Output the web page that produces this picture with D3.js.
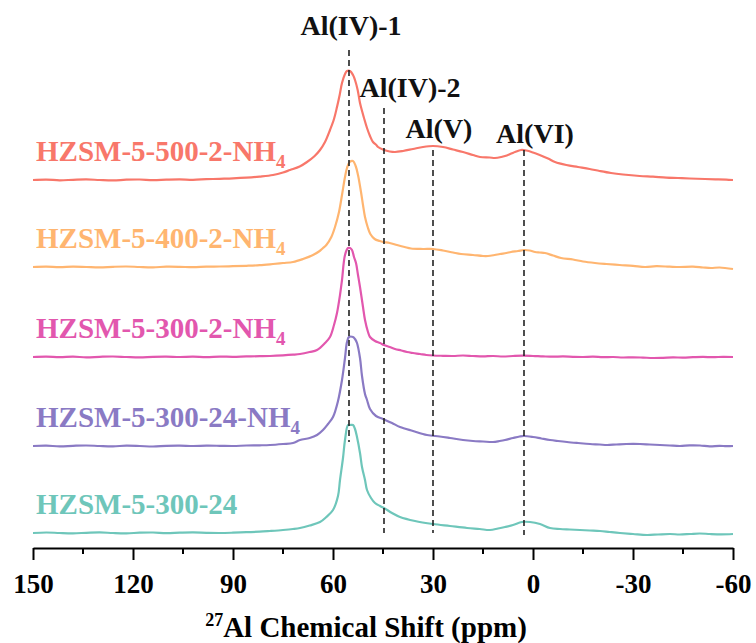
<!DOCTYPE html>
<html>
<head>
<meta charset="utf-8">
<script src="https://cdn.jsdelivr.net/npm/d3@7"></script>
<style>
  body { margin: 0; background: #fff; }
  svg { display: block; }
  text { font-family: "Liberation Serif", "Times New Roman", serif; font-weight: bold; }
</style>
</head>
<body>
<svg id="chart" width="756" height="643"></svg>
<script>
// 27Al MAS NMR spectra, [chemical shift (ppm), intensity (a.u.)]
const spec500_2_NH4 = [
  [150,0],[146,0.4],[142,-0.3],[138,0.2],[134,0.6],[130,0],[126,-0.4],[122,0.3],[118,0.5],[114,-0.2],
  [110,0.3],[106,0.6],[102,0.2],[98,0.8],[94,1.2],[90,1.6],[86,2.3],[82,3.4],[78,5],[75,7.5],
  [72.9,10],[70,13.5],[67.8,18],[65.5,24],[63.9,30],[62.4,38],[60.9,50],[59.7,61],[58.8,73],[58,85],
  [57.3,97],[56.4,106],[55.8,109],[54.9,109],[54,105],[53.4,100],[52.6,90],[51.9,77],[51.2,68],[50.7,62],
  [49.8,52],[48.9,44],[48,38],[47,35],[46.5,33],[44.7,30],[43,28.5],[41.4,28],[39,29],[36,31],
  [33,33],[30,34],[27,33],[24,30.5],[21,28],[18,25],[15.9,23],[13,22.5],[11.4,22],[9.5,23],
  [8.4,24],[6.5,26.5],[5.4,28],[3.6,30],[2,29.5],[0,27.5],[-2,25],[-4.5,21.5],[-6.6,18],[-10,15],
  [-13.5,13],[-17,11],[-20,9],[-23.4,7],[-27,5.5],[-32,4],[-36,3.3],[-40,2.4],[-43.5,2],[-47,1.5],
  [-51.6,1],[-55,0.6],[-58,0.3],[-60,0]
];
const spec400_2_NH4 = [
  [150,0],[146,0.3],[142,-0.2],[138,0.4],[134,0],[130,-0.4],[126,0.2],[122,0.5],[118,0],[114,-0.3],
  [110,0.3],[106,0.2],[102,-0.2],[98,0.4],[94,0.5],[90,0.8],[86,1.2],[82,1.8],[78,3],[75,4],
  [72,5],[69,8],[66,12],[64,16],[63,19],[62,22],[60.5,30],[59.4,40],[58.2,55],[57.3,72],
  [56.4,90],[55.8,99],[55,105],[54,106],[53.2,101],[52.5,92],[51.6,75],[51,62],[50.4,50],[49.6,40],
  [48.8,33],[47.5,28],[46,26],[45,25],[43,24],[40.8,22],[38.5,20],[36.6,18.5],[33,18],[30,18],
  [27,16.5],[24,14.5],[21.6,13],[18,12],[15,11],[13.5,11],[11.5,12],[9.9,13],[8,14],[6.6,15],
  [4.5,16],[2.7,17],[1,16.5],[-0.6,15],[-2,14.5],[-3.6,14],[-6,11.5],[-8.4,9],[-12,7.5],[-15,5.5],
  [-18.6,4],[-22,3],[-26,2],[-30,1.2],[-33.6,0],[-37,0.8],[-41,0.3],[-44,0],[-48,0.3],[-51,-0.5],
  [-53.4,-1],[-56,-0.5],[-60,-2]
];
const spec300_2_NH4 = [
  [150,0],[146,0.4],[142,-0.2],[138,0.3],[134,-0.3],[130,0.2],[126,0.5],[122,0],[118,-0.4],[114,0.2],
  [110,0.4],[106,0],[102,0.3],[98,-0.2],[94,0.4],[90,0.2],[86,0.6],[82,0.8],[78.9,1],[75,1.6],
  [72,2.3],[69.9,3],[67,5],[64.8,7],[62.4,14],[60.9,20],[59.7,32],[58.8,44],[57.9,62],[57.3,77],
  [56.4,102],[55.5,109],[54.9,109],[54.3,107],[53.7,100],[53.1,94],[52.5,82],[51.9,70],[51,50],[50.4,37],
  [49.5,25],[48.9,20],[47.4,16],[45.9,14],[44.7,12],[43,10],[41.4,8],[39.5,6.5],[37.8,5],[36,4],
  [33.9,3],[32,2],[30,1.5],[27,1.2],[24,1],[21,1.5],[18,1],[15,0.6],[12,1],[9,0.5],
  [6,1],[3,1.3],[0,1],[-3,0.6],[-6,0.3],[-9,0.6],[-12,0.2],[-15,0],[-18,0.3],[-21,-0.2],
  [-24,0],[-27,-0.5],[-30,-0.3],[-33,-0.6],[-36,-1],[-39,-0.8],[-42,-0.4],[-45,-0.6],[-48,-0.2],[-51,0.1],
  [-54,-0.2],[-57,0.2],[-60,0]
];
const spec300_24_NH4 = [
  [150,0],[146,0.3],[142,-0.3],[138,0.2],[134,0.5],[130,0],[126,-0.3],[122,0.3],[118,0],[114,-0.5],
  [110,0.2],[106,0.4],[102,0],[98,0.3],[94,0.2],[90,0],[86,0.5],[82,0.7],[78.9,1],[75,2],
  [72,3],[69.9,6],[67,8],[64.8,11],[63,16],[61.5,22],[60,29],[58.5,45],[57.3,66],[56.4,88],
  [55.8,104],[55.2,109],[54,109],[53.4,107],[52.8,103],[51.9,88],[51.3,70],[50.4,52],[49.8,46],[48.9,37],
  [47.1,30],[45,27],[42.3,23],[39.9,19],[36,15],[31.8,11],[28,9.5],[24.9,8],[21,6],[18,5],
  [15,4.5],[12,4],[10,5],[8.4,6],[6,8],[4,9.5],[2.7,10],[0,9],[-2.5,7.5],[-5.1,6],
  [-7.5,5],[-10.2,4],[-13.5,3],[-17.1,2],[-20,1.5],[-22.2,1],[-25,1.5],[-28,2],[-32.1,2],[-35,1.5],
  [-38.1,1],[-41,0.5],[-44.1,0],[-47,0.6],[-50.1,0.5],[-53,-0.3],[-56,0.2],[-58,-0.2],[-60,0]
];
const spec300_24 = [
  [150,0],[146,0.5],[142,0],[138,-0.3],[134,0.2],[130,0.6],[126,0],[122,-0.3],[118,0.3],[114,0.5],
  [110,-0.2],[106,0.3],[102,0.6],[98,0.2],[94,0],[90,0.3],[86,0.8],[82,1.3],[78.9,2],[75,3],
  [72,4],[69.9,5],[67,7.5],[63.9,11],[62,16],[60,23],[58.5,37],[57.9,53],[57,75],[56.4,93],
  [55.5,108],[54.9,108],[54,108],[53.4,104],[52.8,96],[51.9,80],[51.3,66],[50.4,53],[49.8,43],[48.6,35],
  [47.4,30],[45.9,27],[44.7,25],[42.3,20],[39.9,16],[35.4,12],[30,9],[24.9,7],[19.8,5],[16,4],
  [12.9,3],[10.5,4.5],[8.4,6],[6,8],[3.3,11],[0.9,11],[-2.1,9],[-5.1,5],[-8.1,4],[-11,3.5],
  [-14.1,3],[-17,2.5],[-20.1,2],[-23,1],[-26.1,0],[-30,-1],[-34.2,-2],[-37.5,-1.5],[-41.1,-1],[-44,-1.5],
  [-47.1,-1],[-50,-0.5],[-53.1,-1],[-56.5,-1.3],[-60,-1]
];

const sampleNames = ["HZSM-5-500-2-NH4", "HZSM-5-400-2-NH4", "HZSM-5-300-2-NH4", "HZSM-5-300-24-NH4", "HZSM-5-300-24"];
const sampleSpectra = [spec500_2_NH4, spec400_2_NH4, spec300_2_NH4, spec300_24_NH4, spec300_24];
const stackOffsets = [368, 281, 191, 102, 15];   // vertical offset of each trace (a.u.)
const sampleColors = ["#F8776A", "#FFB570", "#E257AE", "#8A7AC4", "#6EC6BA"];

const siteNames = ["Al(IV)-1", "Al(IV)-2", "Al(V)", "Al(VI)"];
const siteShifts = [55.2, 44.7, 30, 2.7];

const xTicks = [150, 120, 90, 60, 30, 0, -30, -60];
const xMinorTicks = [135, 105, 75, 45, 15, -15, -45];

// ---- drawing ----
const svg = d3.select("#chart");
const x = d3.scaleLinear().domain([150, -60]).range([33, 733]);
const y = d3.scaleLinear().domain([0, 500]).range([548, 48]);

const line = d3.line()
  .x(d => x(d[0]))
  .y(d => y(d[1]))
  .curve(d3.curveCatmullRom.alpha(0.5));

const traces = svg.append("g").attr("class", "traces");
sampleSpectra.forEach((spec, i) => {
  const off = stackOffsets[i];
  traces.append("path")
    .datum(spec.map(p => [p[0], p[1] + off]))
    .attr("d", line)
    .attr("fill", "none")
    .attr("stroke", sampleColors[i])
    .attr("stroke-width", 2.2)
    .attr("stroke-linejoin", "round");
});

// sample labels with NH4 subscript
const labels = svg.append("g").attr("class", "sample-labels");
sampleNames.forEach((name, i) => {
  const t = labels.append("text")
    .attr("x", 36)
    .attr("y", y(stackOffsets[i]) - 19)
    .attr("fill", sampleColors[i])
    .attr("font-size", 29);
  const m = name.match(/^(.*NH)4$/);
  if (m) {
    t.append("tspan").text(m[1]);
    t.append("tspan").attr("font-size", 19).attr("dy", 7).text("4");
  } else {
    t.text(name);
  }
});

// dashed guide lines at the Al sites: [top, bottom] in a.u.
const siteSpans = [[498, 106], [440, 15], [398, 15], [398, 13]];
const siteLabelPos = [[2, 35], [26, 97], [6, 138], [11, 143]];   // [dx, baseline y]
const guides = svg.append("g").attr("class", "guides");
siteShifts.forEach((s, i) => {
  guides.append("line")
    .attr("x1", x(s)).attr("x2", x(s))
    .attr("y1", y(siteSpans[i][0])).attr("y2", y(siteSpans[i][1]))
    .attr("stroke", "#222")
    .attr("stroke-width", 1.6)
    .attr("stroke-dasharray", "6,4");
  guides.append("text")
    .attr("x", x(s) + siteLabelPos[i][0])
    .attr("y", siteLabelPos[i][1])
    .attr("text-anchor", "middle")
    .attr("font-size", 28)
    .attr("fill", "#111")
    .text(siteNames[i]);
});

// x axis
const axisY = y(0);
const axis = svg.append("g")
  .attr("transform", `translate(0,${axisY})`)
  .call(d3.axisBottom(x)
    .tickValues(xTicks)
    .tickFormat(d => String(d))
    .tickSize(12)
    .tickSizeOuter(0)
    .tickPadding(14));
axis.select(".domain").attr("stroke", "#000").attr("stroke-width", 2);
axis.selectAll(".tick line").attr("stroke", "#000").attr("stroke-width", 2);
axis.selectAll(".tick text")
  .attr("font-family", "Liberation Serif, Times New Roman, serif")
  .attr("font-weight", "bold")
  .attr("font-size", 27)
  .attr("fill", "#000");

axis.selectAll(".minor")
  .data(xMinorTicks)
  .enter().append("line")
  .attr("class", "minor")
  .attr("x1", d => x(d)).attr("x2", d => x(d))
  .attr("y1", 0).attr("y2", 6)
  .attr("stroke", "#000").attr("stroke-width", 2);

// axis title
const title = svg.append("text")
  .attr("x", 366)
  .attr("y", 637)
  .attr("text-anchor", "middle")
  .attr("font-size", 29)
  .attr("fill", "#000");
title.append("tspan").attr("font-size", 18).attr("dy", -11).text("27");
title.append("tspan").attr("dy", 11).text("Al Chemical Shift (ppm)");
</script>
</body>
</html>
